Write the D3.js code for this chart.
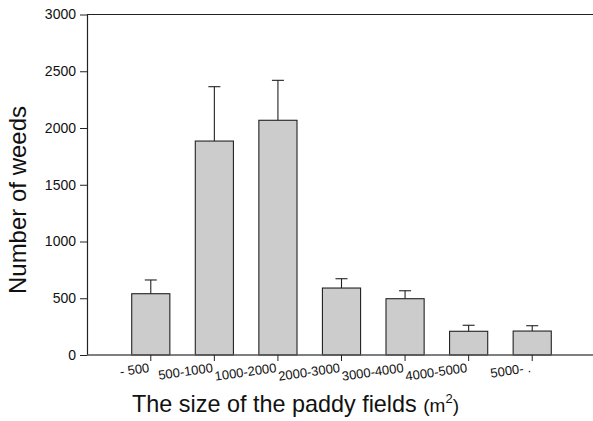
<!DOCTYPE html>
<html>
<head>
<meta charset="utf-8">
<script src="https://cdn.jsdelivr.net/npm/d3@7.9.0/dist/d3.min.js"></script>
<style>
  body { margin: 0; background: #fff; }
  svg text { font-family: "Liberation Sans", Arial, sans-serif; fill: #111; }
</style>
</head>
<body>
<svg id="chart" width="593" height="421"></svg>
<script>
// weeds per field size class
const categories = ['- 500', '500-1000', '1000-2000', '2000-3000', '3000-4000', '4000-5000', '5000- .'];
const means = [540, 1885, 2068, 590, 496, 209, 211];
const upper = [661, 2364, 2420, 672, 566, 262, 258];
const yTicks = [0, 500, 1000, 1500, 2000, 2500, 3000];

const width = 593, height = 421;
const svg = d3.select('#chart');

const plot = { left: 87, right: 593, top: 14.5, bottom: 355 };

const x = d3.scaleBand()
  .domain(categories)
  .range([119, 564])
  .paddingInner(0.4)
  .paddingOuter(0.2);

const y = d3.scaleLinear()
  .domain([0, 3000])
  .range([plot.bottom, plot.top]);

// top frame line
svg.append('line')
  .attr('x1', plot.left).attr('x2', plot.right)
  .attr('y1', plot.top).attr('y2', plot.top)
  .attr('stroke', '#222').attr('stroke-width', 1.2);

// bars
svg.append('g')
  .selectAll('rect')
  .data(categories)
  .join('rect')
  .attr('x', d => x(d))
  .attr('width', x.bandwidth())
  .attr('y', (d, i) => y(means[i]))
  .attr('height', (d, i) => plot.bottom - y(means[i]))
  .attr('fill', '#cccccc')
  .attr('stroke', '#222')
  .attr('stroke-width', 1.1);

// error bars (upper only)
const err = svg.append('g').attr('stroke', '#222').attr('stroke-width', 1.1);
categories.forEach((c, i) => {
  const cx = x(c) + x.bandwidth() / 2;
  err.append('line')
    .attr('x1', cx).attr('x2', cx)
    .attr('y1', y(means[i])).attr('y2', y(upper[i]));
  err.append('line')
    .attr('x1', cx - 6).attr('x2', cx + 6)
    .attr('y1', y(upper[i])).attr('y2', y(upper[i]));
});

// y axis
const yAxis = svg.append('g')
  .attr('transform', `translate(${plot.left},0)`)
  .call(d3.axisLeft(y).tickValues(yTicks).tickFormat(d3.format('d'))
    .tickSize(7).tickSizeOuter(0).tickPadding(4));
yAxis.select('.domain').attr('stroke', '#222').attr('stroke-width', 1.2);
yAxis.selectAll('.tick line').attr('stroke', '#222');
yAxis.selectAll('.tick text')
  .style('font-size', '14px')
  .style('font-family', '"Liberation Sans", Arial, sans-serif')
  .attr('fill', '#111');

// x axis
const xAxis = svg.append('g')
  .attr('transform', `translate(0,${plot.bottom})`);
xAxis.append('line')
  .attr('x1', plot.left).attr('x2', plot.right)
  .attr('stroke', '#555').attr('stroke-width', 1.6);
xAxis.selectAll('line.tk')
  .data(categories)
  .join('line')
  .attr('class', 'tk')
  .attr('x1', d => x(d) + x.bandwidth() / 2)
  .attr('x2', d => x(d) + x.bandwidth() / 2)
  .attr('y1', 0).attr('y2', 6)
  .attr('stroke', '#222');
xAxis.selectAll('text.lbl')
  .data(categories)
  .join('text')
  .attr('class', 'lbl')
  .attr('transform', d => `translate(${x(d) + x.bandwidth() / 2 - 1},17) rotate(-8)`)
  .attr('text-anchor', 'end')
  .style('font-size', '13px')
  .text(d => d);

// axis titles
svg.append('text')
  .attr('transform', `translate(26,200) rotate(-90)`)
  .attr('text-anchor', 'middle')
  .style('font-size', '24px')
  .text('Number of weeds');

const xt = svg.append('text')
  .attr('x', 132)
  .attr('y', 412)
  .style('font-size', '23.4px');
xt.append('tspan').text('The size of the paddy fields ');
xt.append('tspan').style('font-size', '19px').text('(m');
xt.append('tspan').style('font-size', '13px').attr('dy', -9).text('2');
xt.append('tspan').style('font-size', '19px').attr('dy', 9).text(')');
</script>
</body>
</html>
